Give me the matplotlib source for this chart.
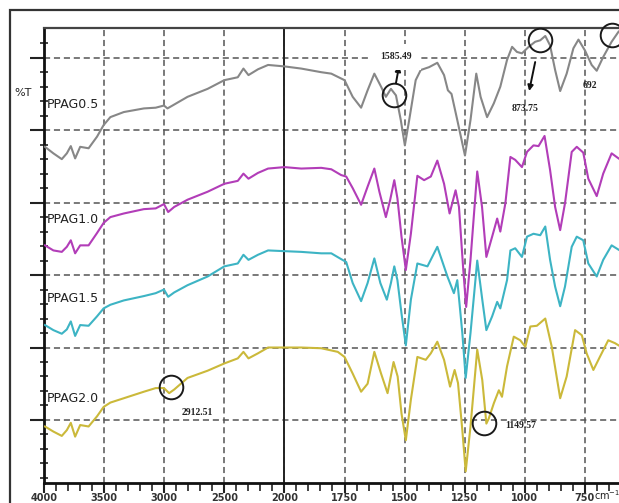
import numpy as np
import matplotlib
matplotlib.use("Agg")
import matplotlib.pyplot as plt
from matplotlib.patches import Rectangle

# ---------------- data (wavenumber cm-1, %T offset units) ----------------
wn_05 = [3992, 3922, 3852, 3810, 3777, 3741, 3699, 3629, 3559, 3504, 3448, 3336, 3169, 3071, 3002, 2973, 2931,
         2806, 2639, 2500, 2388, 2341, 2299, 2220, 2136, 2000, 1930, 1847, 1805, 1750, 1716, 1681, 1654, 1626,
         1598, 1578, 1557, 1536, 1516, 1499, 1481, 1454, 1433, 1398, 1364, 1336, 1320, 1305, 1281, 1249, 1226,
         1202, 1184, 1157, 1129, 1102, 1074, 1053, 1033, 1012, 984, 957, 936, 915, 895, 874, 853, 826, 798, 777,
         750, 722, 701, 674, 639, 610]
t_05 = [47.7, 46.8, 46.0, 46.8, 47.8, 46.1, 47.7, 47.5, 49.1, 50.7, 51.8, 52.5, 53.0, 53.1, 53.4, 53.0, 53.4,
        54.6, 55.7, 56.9, 57.3, 58.5, 57.6, 58.4, 59.0, 58.8, 58.5, 58.0, 57.8, 56.9, 54.6, 53.1, 55.5, 57.8,
        56.0, 54.6, 55.7, 54.8, 51.4, 47.9, 51.4, 56.9, 58.3, 58.7, 59.3, 57.6, 55.5, 55.0, 51.4, 46.5, 51.4,
        57.8, 54.6, 51.8, 53.7, 56.0, 59.7, 61.5, 60.8, 60.6, 61.5, 62.2, 62.4, 63.0, 61.7, 58.3, 55.4, 57.8,
        61.3, 62.5, 61.0, 59.0, 58.2, 60.1, 62.2, 63.6]

wn_10 = [3992, 3922, 3852, 3810, 3777, 3741, 3699, 3629, 3559, 3504, 3448, 3336, 3169, 3071, 3002, 2967, 2917,
         2806, 2639, 2500, 2388, 2341, 2299, 2220, 2136, 2000, 1930, 1847, 1805, 1764, 1743, 1716, 1681, 1654,
         1626, 1605, 1578, 1560, 1543, 1530, 1513, 1495, 1474, 1447, 1419, 1391, 1364, 1336, 1313, 1288, 1274,
         1256, 1244, 1226, 1198, 1178, 1160, 1136, 1115, 1102, 1081, 1060, 1040, 1012, 991, 964, 943, 918, 895,
         874, 853, 833, 805, 784, 757, 736, 701, 674, 639, 610]
t_10 = [34.1, 33.4, 33.2, 33.9, 34.8, 33.0, 34.1, 34.1, 35.8, 37.2, 38.0, 38.5, 39.1, 39.2, 39.8, 38.7, 39.4,
        40.4, 41.5, 42.6, 43.0, 44.0, 43.3, 44.1, 44.7, 44.9, 44.7, 44.8, 44.6, 43.8, 43.6, 42.0, 39.7, 42.2,
        44.7, 41.5, 38.0, 40.4, 43.1, 40.6, 35.3, 30.7, 35.7, 43.7, 43.1, 43.6, 45.8, 42.6, 38.5, 41.7, 39.4,
        30.7, 25.6, 32.1, 44.3, 39.4, 32.5, 35.3, 37.8, 36.0, 39.9, 46.3, 45.9, 44.9, 47.0, 47.9, 47.8, 49.2,
        44.5, 39.4, 36.2, 39.9, 47.0, 47.7, 46.9, 43.3, 40.9, 44.0, 46.8, 46.1]

wn_15 = [3992, 3922, 3852, 3810, 3777, 3741, 3699, 3629, 3559, 3504, 3448, 3336, 3169, 3071, 3002, 2967, 2917,
         2806, 2639, 2500, 2388, 2341, 2299, 2220, 2136, 2000, 1930, 1847, 1805, 1764, 1743, 1716, 1681, 1654,
         1626, 1601, 1574, 1557, 1543, 1530, 1513, 1495, 1474, 1447, 1405, 1364, 1322, 1295, 1281, 1260, 1246,
         1226, 1198, 1177, 1160, 1136, 1115, 1102, 1074, 1060, 1040, 1012, 991, 964, 936, 915, 895, 874, 853,
         833, 805, 784, 757, 736, 701, 674, 639, 610]
t_15 = [23.1, 22.4, 21.9, 22.5, 23.6, 21.6, 23.1, 23.0, 24.3, 25.4, 25.9, 26.5, 27.1, 27.5, 28.0, 27.0, 27.6,
        28.6, 29.8, 31.2, 31.6, 32.8, 32.1, 32.8, 33.4, 33.3, 33.2, 33.0, 33.0, 32.2, 31.8, 28.9, 26.4, 28.9,
        32.3, 28.9, 26.6, 28.9, 31.2, 29.3, 24.7, 20.3, 26.6, 31.6, 31.2, 33.9, 29.8, 27.5, 29.3, 22.0, 15.8,
        22.0, 32.0, 26.6, 22.4, 24.3, 26.3, 25.4, 29.3, 33.4, 33.7, 32.5, 35.3, 35.7, 35.5, 36.7, 32.1, 28.4,
        25.7, 28.4, 33.9, 35.3, 34.8, 31.6, 29.8, 32.1, 34.1, 33.5]

wn_20 = [3992, 3922, 3852, 3810, 3777, 3741, 3699, 3629, 3559, 3504, 3448, 3336, 3169, 3071, 3002, 2959, 2917,
         2806, 2639, 2500, 2388, 2341, 2299, 2220, 2136, 2000, 1930, 1847, 1778, 1750, 1716, 1681, 1654, 1626,
         1598, 1571, 1546, 1529, 1513, 1495, 1474, 1447, 1412, 1391, 1364, 1336, 1311, 1292, 1278, 1260, 1246,
         1226, 1198, 1177, 1160, 1150, 1129, 1108, 1095, 1074, 1046, 1019, 998, 977, 950, 915, 888, 853, 826,
         791, 763, 743, 715, 688, 653, 625, 610]
t_20 = [9.1, 8.4, 7.8, 8.6, 9.6, 7.7, 9.3, 9.1, 10.5, 11.8, 12.4, 13.0, 13.9, 14.4, 14.4, 13.7, 14.2,
        15.8, 16.8, 17.8, 18.5, 19.4, 18.5, 19.2, 20.0, 20.0, 20.0, 19.9, 19.4, 18.7, 16.4, 13.9, 15.0, 19.4,
        16.4, 13.7, 18.0, 16.0, 10.9, 7.2, 12.8, 18.7, 18.3, 19.2, 20.8, 18.3, 14.6, 16.9, 15.1, 8.6, 2.9,
        9.1, 19.7, 15.5, 9.5, 10.2, 12.3, 14.1, 13.2, 17.4, 21.5, 21.0, 20.1, 22.9, 23.0, 24.0, 20.1, 13.0,
        16.0, 22.4, 21.7, 19.2, 16.9, 18.7, 21.0, 20.6, 20.3]

series_names = ["PPAG0.5", "PPAG1.0", "PPAG1.5", "PPAG2.0"]
series_colors = ["#878787", "#b23db8", "#3db4c4", "#cbb93a"]
label_y = [53.6, 37.7, 26.8, 13.0]

xtick_values = [4000, 3500, 3000, 2500, 2000, 1750, 1500, 1250, 1000, 750]
xtick_labels = ["4000", "3500", "3000", "2500", "2000", "1750", "1500", "1250", "1000", "750"]

# peak annotations
circle_x = [1546, 936, 638, 2946, 1168]
circle_y = [54.8, 62.4, 63.1, 14.5, 9.6]
peak_labels = ["1585.49", "873.75", "692", "2912.51", "1149.57"]
peak_label_x = [1536, 998, 729, 2728, 1015]
peak_label_y = [60.1, 53.0, 56.2, 11.0, 9.3]
arrow_start = [(1536, 56.5), (957, 59.4)]
arrow_end = [(1523, 58.9), (982, 55.4)]

# ---------------- figure ----------------
W, H = 619, 503
fig = plt.figure(figsize=(W / 100, H / 100), dpi=100)
fig.patch.set_facecolor("white")

ax = fig.add_axes([44 / W, (H - 483) / H, (621 - 44) / W, 455 / H])


def fwd(x):
    x = np.asarray(x, dtype=float)
    return np.where(x >= 2000, x, 2 * x - 2000)


def inv(u):
    u = np.asarray(u, dtype=float)
    return np.where(u >= 2000, u, (u + 2000) / 2)


ax.set_xscale("function", functions=(fwd, inv))
ax.set_xlim(4000, 600)
ax.set_ylim(1.3, 64.1)

# grid
ax.set_axisbelow(True)
ax.set_xticks(xtick_values)
ax.set_xticklabels(xtick_labels)
minor_x = [v for v in list(range(3900, 2000, -100)) + list(range(1950, 600, -50)) if v not in xtick_values]
ax.set_xticks(minor_x, minor=True)
ax.set_yticks([10, 20, 30, 40, 50, 60])
ax.set_yticklabels([])
ax.set_yticks([v for v in range(2, 64, 2) if v % 10 != 0], minor=True)

ax.grid(True, which="major", linestyle=(0, (4, 2.5)), color="#555555", linewidth=1.1)
ax.axvline(2000, color="#222222", linewidth=1.4, zorder=1.5)

ax.tick_params(axis="x", which="major", direction="out", length=7, width=1.5, pad=0.5,
               labelsize=7, colors="#222222")
ax.tick_params(axis="x", which="minor", direction="out", length=6, width=1.2, colors="#222222")
ax.tick_params(axis="y", which="major", direction="out", length=10, width=1.5, colors="#222222")
ax.tick_params(axis="y", which="minor", direction="inout", length=6, width=1.2, colors="#222222")
for lab in ax.get_xticklabels():
    lab.set_fontweight("bold")
    lab.set_color("#333333")

for side in ["left", "bottom"]:
    ax.spines[side].set_linewidth(2.0)
    ax.spines[side].set_color("#111111")
ax.spines["top"].set_linewidth(1.6)
ax.spines["top"].set_color("#444444")
ax.spines["right"].set_visible(False)

# curves
all_wn = [wn_05, wn_10, wn_15, wn_20]
all_t = [t_05, t_10, t_15, t_20]
for wn, t, c in zip(all_wn, all_t, series_colors):
    ax.plot(wn, t, color=c, linewidth=1.5, solid_joinstyle="round", zorder=3)

for name, yv in zip(series_names, label_y):
    ax.text(3975, yv, name, fontsize=9, color="#222222", ha="left", va="center", zorder=4)

# annotation circles, arrows, labels
ax.plot(circle_x, circle_y, "o", ms=17, mfc="none", mec="#1a1a1a", mew=1.4, zorder=5, clip_on=False)
for s, e in zip(arrow_start, arrow_end):
    ax.annotate("", xy=e, xytext=s,
                arrowprops=dict(arrowstyle="-|>", color="#111111", lw=1.4, mutation_scale=8,
                                shrinkA=0, shrinkB=0), zorder=5)
for i, (lab, lx, ly) in enumerate(zip(peak_labels, peak_label_x, peak_label_y)):
    kw = dict(fontsize=7, fontweight="bold", family="Liberation Serif", color="#222222",
              ha="center", va="center", zorder=5)
    if i == 0:
        kw["bbox"] = dict(boxstyle="square,pad=0.9", fc="white", ec="none")
    ax.text(lx, ly, lab, **kw)

# axis annotations
ax.text(-0.052, 0.857, "%T", transform=ax.transAxes, fontsize=8, color="#222222", ha="left", va="center")
ax.text(712, -0.026, r"cm$^{-1}$", transform=ax.get_xaxis_transform(), fontsize=7,
        color="#222222", ha="left", va="center")

# outer frame
fig.add_artist(Rectangle((10 / W, -0.1), 1.2, 1.1 - 10 / H, transform=fig.transFigure,
                         fill=False, edgecolor="#333333", linewidth=1.6))

fig.savefig("out.png", dpi=100)
